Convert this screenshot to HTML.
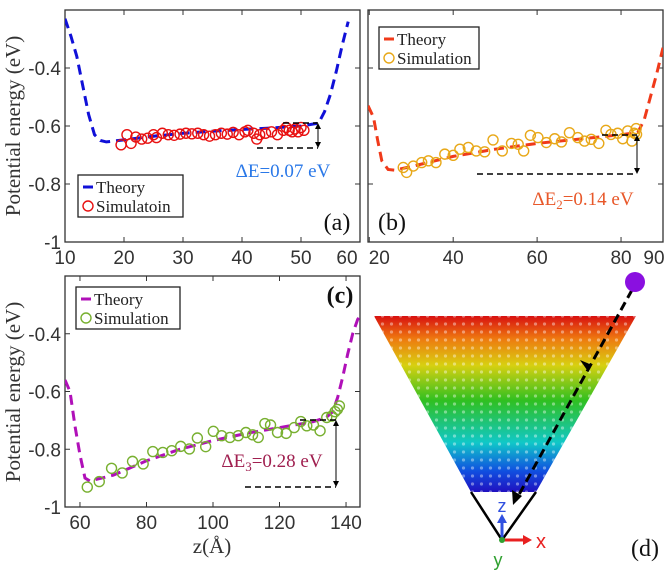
<!DOCTYPE html>
<html><head><meta charset="utf-8">
<style>
body{margin:0;background:#fff;}
svg{display:block;}
.tick{font-family:"Liberation Sans",sans-serif;font-size:19px;fill:#333;}
.serif{font-family:"Liberation Serif",serif;}
</style></head>
<body>
<svg id="fig" width="669" height="570" viewBox="0 0 669 570" xmlns="http://www.w3.org/2000/svg">
<defs>
<linearGradient id="rainbow" x1="0" y1="0" x2="0" y2="1">
<stop offset="0" stop-color="#d81010"/>
<stop offset="0.13" stop-color="#ee7a10"/>
<stop offset="0.28" stop-color="#d8d010"/>
<stop offset="0.48" stop-color="#30c020"/>
<stop offset="0.72" stop-color="#10c8c8"/>
<stop offset="0.88" stop-color="#1050e0"/>
<stop offset="1" stop-color="#2010c0"/>
</linearGradient>
<pattern id="dots" width="9" height="8" patternUnits="userSpaceOnUse">
<circle cx="4.5" cy="4" r="1.6" fill="#fff" opacity="0.4"/>
</pattern>
</defs>
<g id="plots"></g>
<g id="panel-d">
<polygon points="374,316 636,316 536,492 471,492" fill="url(#rainbow)"/>
<polygon points="374,316 636,316 536,492 471,492" fill="url(#dots)"/>
<polyline points="471,492 502,540 536,492" fill="none" stroke="#000" stroke-width="2.5"/>
<line x1="632" y1="290" x2="516" y2="500" stroke="#000" stroke-width="3" stroke-dasharray="9,5"/>
<polygon points="587,370 580,360 592,365" fill="#000"/>
<polygon points="513,505 512,490 522,496" fill="#000"/>
<circle cx="635" cy="282" r="10" fill="#8a10e0"/>
<line x1="502" y1="540" x2="502" y2="522" stroke="#3050e0" stroke-width="3"/>
<polygon points="497,523 507,523 502,514" fill="#3050e0"/>
<line x1="502" y1="540" x2="524" y2="540" stroke="#e82020" stroke-width="3"/>
<polygon points="523,535 523,545 532,540" fill="#e82020"/>
<circle cx="502" cy="540" r="3" fill="#30a030"/>
<text x="502" y="512" font-family="Liberation Sans,sans-serif" font-size="18" fill="#3050e0" text-anchor="middle">z</text>
<text x="541" y="548" font-family="Liberation Sans,sans-serif" font-size="20" fill="#e82020" text-anchor="middle">x</text>
<text x="498" y="566" font-family="Liberation Sans,sans-serif" font-size="18" fill="#30a030" text-anchor="middle">y</text>
<text x="645" y="556" class="serif" font-size="24" fill="#111" text-anchor="middle">(d)</text>
</g>
</svg>
<script>
const NS="http://www.w3.org/2000/svg";
// Panel (a)
const aTheoryZ=[10,11,12,13,14,15,16,17,20,25,30,35,40,45,50,53,54,55,56,57,58];
const aTheoryE=[-0.23,-0.29,-0.36,-0.46,-0.56,-0.63,-0.65,-0.655,-0.648,-0.635,-0.625,-0.618,-0.612,-0.607,-0.60,-0.59,-0.55,-0.49,-0.41,-0.32,-0.24];
const aSimZ=[19.5,20.5,21.2,22,23,24,25,25.5,26.5,27.5,28.5,29.5,30.5,31.5,32.5,33.5,34.5,35.5,36.5,37.5,38.5,39.5,40.5,41,42,42.5,43,44,45,46,47,47.5,48,48.5,49,49.5,50,50.5];
const aSimE=[-0.665,-0.63,-0.66,-0.638,-0.645,-0.642,-0.63,-0.64,-0.625,-0.63,-0.632,-0.628,-0.625,-0.627,-0.625,-0.63,-0.635,-0.63,-0.625,-0.628,-0.622,-0.63,-0.62,-0.615,-0.625,-0.645,-0.63,-0.625,-0.62,-0.63,-0.615,-0.605,-0.615,-0.62,-0.61,-0.62,-0.605,-0.615];
const aXTicks=[10,20,30,40,50,60];
// Panel (b)
const bTheoryZ=[19.7,21,22,23,24.5,26,30,40,50,60,70,80,84,85.5,87,88.5,90];
const bTheoryE=[-0.53,-0.57,-0.65,-0.72,-0.75,-0.752,-0.74,-0.705,-0.68,-0.66,-0.645,-0.63,-0.622,-0.58,-0.5,-0.42,-0.33];
const bSimZ=[28.1,28.9,30.5,32.5,34.1,35.9,38.0,40,41.6,43.6,45.5,47.5,49.5,51.7,53.9,55.5,56.8,58.4,60.2,62.2,64.2,65.8,67.7,69.7,71.3,72.9,74.7,76.4,77.6,79.2,80.4,81.6,82.6,83.2,83.6,83.7];
const bSimE=[-0.743,-0.760,-0.738,-0.726,-0.720,-0.726,-0.697,-0.701,-0.680,-0.674,-0.686,-0.689,-0.648,-0.686,-0.660,-0.663,-0.686,-0.632,-0.640,-0.657,-0.644,-0.655,-0.623,-0.640,-0.652,-0.646,-0.660,-0.615,-0.629,-0.625,-0.644,-0.617,-0.652,-0.625,-0.609,-0.629];
const bXTicks=[20,40,60,80,90];
// Panel (c)
const cTheoryZ=[55.5,57,58.5,60,61.5,63,70,80,90,100,110,120,130,134,136,137.5,139,140.5,142,143.5,144.2];
const cTheoryE=[-0.56,-0.6,-0.72,-0.82,-0.9,-0.91,-0.89,-0.84,-0.8,-0.77,-0.745,-0.725,-0.705,-0.69,-0.67,-0.62,-0.55,-0.47,-0.4,-0.35,-0.34];
const cSimZ=[62.2,65.8,69.5,72.7,75.8,79.0,81.9,84.9,87.6,90.3,92.9,95.3,97.8,100.1,102.6,105.1,107.6,109.9,111.9,113.6,115.6,117.3,119.4,122.0,124.4,126.4,128.2,130.2,132.2,134.2,135.7,136.7,137.4,138.0];
const cSimE=[-0.931,-0.912,-0.866,-0.882,-0.842,-0.851,-0.808,-0.811,-0.805,-0.790,-0.799,-0.761,-0.791,-0.738,-0.753,-0.759,-0.753,-0.742,-0.750,-0.759,-0.711,-0.716,-0.742,-0.745,-0.725,-0.704,-0.719,-0.716,-0.736,-0.690,-0.685,-0.670,-0.662,-0.650];
const cXTicks=[60,80,100,120,140];
const yTicks=[-1,-0.8,-0.6,-0.4];
const yTickLabels=["-1","-0.8","-0.6","-0.4"];

const root=document.getElementById('plots');
function mk(tag,attrs,parent){const e=document.createElementNS(NS,tag);for(const k in attrs)e.setAttribute(k,attrs[k]);(parent||root).appendChild(e);return e;}

function panel(o){
  const g=mk('g',{});
  
  
  const sx=z=>o.L+(z-o.x0)/(o.x1-o.x0)*(o.R-o.L);
  const sy=v=>o.B-(v-(-1))/(-0.2-(-1))*(o.B-o.T);
  const frame=mk('rect',{x:o.L,y:o.T,width:o.R-o.L,height:o.B-o.T,fill:'#fff',stroke:'#333','stroke-width':1.3},g);
  
  
  yTicks.forEach((v,i)=>{
    const y=sy(v);
    mk('line',{x1:o.L,x2:o.L+5,y1:y,y2:y,stroke:'#333'},g);
    mk('line',{x1:o.R,x2:o.R-5,y1:y,y2:y,stroke:'#333'},g);
    if(o.yLabels){const t=mk('text',{x:o.L-4,y:y+7,'text-anchor':'end',class:'tick'},g);t.textContent=yTickLabels[i];
      
      }
  });
  o.xt.forEach((v,i)=>{
    const x=sx(v);
    mk('line',{x1:x,x2:x,y1:o.B,y2:o.B-5,stroke:'#333'},g);
    mk('line',{x1:x,x2:x,y1:o.T,y2:o.T+5,stroke:'#333'},g);
    let off=0;
    if(o.shiftFirst&&i===0)off=o.shiftFirst;
    if(o.shiftLast&&i===o.xt.length-1)off=o.shiftLast;
    const t=mk('text',{x:x+off,y:o.B+22,'text-anchor':'middle',class:'tick'},g);t.textContent=String(v);
    
    
  });
  const clip='clip-'+o.name;
  const cp=mk('clipPath',{id:clip},g);mk('rect',{x:o.L,y:o.T,width:o.R-o.L,height:o.B-o.T},cp);
  const pts=o.tz.map((z,i)=>sx(z).toFixed(1)+','+sy(o.te[i]).toFixed(1)).join(' ');
  const line=mk('polyline',{points:pts,fill:'none',stroke:o.lc,'stroke-width':3,'stroke-dasharray':'10,6','clip-path':'url(#'+clip+')'},g);
  
  
  o.sz.forEach((z,i)=>{
    const c=mk('circle',{cx:sx(z),cy:sy(o.se[i]),r:5,fill:'none',stroke:o.mc,'stroke-width':1.4},g);
    
    
  });
  const a=o.ann;
  mk('line',{x1:a.lx1,x2:a.ax,y1:a.ly,y2:a.ly,stroke:'#000','stroke-width':1.5,'stroke-dasharray':'6,4'},g);
  mk('line',{x1:a.ux1,x2:a.ax,y1:a.uy,y2:a.uy,stroke:'#000','stroke-width':1.5,'stroke-dasharray':'6,4'},g);
  mk('line',{x1:a.ax,x2:a.ax,y1:a.uy+3,y2:a.ly-3,stroke:'#000','stroke-width':1},g);
  mk('polygon',{points:`${a.ax-3},${a.uy+6} ${a.ax+3},${a.uy+6} ${a.ax},${a.uy}`,fill:'#000'},g);
  mk('polygon',{points:`${a.ax-3},${a.ly-6} ${a.ax+3},${a.ly-6} ${a.ax},${a.ly}`,fill:'#000'},g);
  const at=mk('text',{x:a.tx,y:a.ty,'text-anchor':'middle',class:'serif','font-size':19,fill:a.tc},g);
  at.innerHTML=a.html;
  
  
  const lg=o.lg;
  const lgG=mk('g',{},g);
  
  
  mk('rect',{x:lg.x,y:lg.y,width:lg.w,height:42,fill:'#fff',stroke:'#222','stroke-width':1.3},lgG);
  mk('line',{x1:lg.x+5,x2:lg.x+15,y1:lg.y+12,y2:lg.y+12,stroke:o.lc,'stroke-width':3},lgG);
  mk('circle',{cx:lg.x+10,cy:lg.y+31,r:5,fill:'none',stroke:o.mc,'stroke-width':1.4},lgG);
  const t1=mk('text',{x:lg.x+18,y:lg.y+18,class:'serif','font-size':17,fill:'#222'},lgG);t1.textContent='Theory';
  
  
  const t2=mk('text',{x:lg.x+18,y:lg.y+37,class:'serif','font-size':17,fill:'#222'},lgG);t2.textContent=o.simLabel;
  
  
  const pl=mk('text',{x:o.pl[0],y:o.pl[1],'text-anchor':'middle',class:'serif','font-size':24,fill:'#111','font-weight':o.plBold?'bold':'normal'},g);
  pl.textContent=o.plText;
  
  
}

panel({name:'panel-a',L:65,R:360,T:10,B:242,x0:10,x1:60,xt:aXTicks,yLabels:true,shiftLast:-13,tz:aTheoryZ,te:aTheoryE,sz:aSimZ,se:aSimE,lc:'#1010d8',mc:'#e81010',
  ann:{lx1:257,ux1:283,ax:318,ly:148,uy:123,tx:283,ty:177,tc:'#2a78e8',html:'ΔE=0.07 eV'},
  lg:{x:78,y:175,w:105},simLabel:'Simulatoin',pl:[337,230],plText:'(a)'});
panel({name:'panel-b',L:368,R:663,T:10,B:242,x0:19.7,x1:90,xt:bXTicks,yLabels:false,shiftFirst:10,shiftLast:-9,tz:bTheoryZ,te:bTheoryE,sz:bSimZ,se:bSimE,lc:'#f03a1a',mc:'#e8a818',
  ann:{lx1:477,ux1:602,ax:637,ly:174,uy:135,tx:583,ty:205,tc:'#e8582a',html:'ΔE<tspan font-size="13" dy="4">2</tspan><tspan dy="-4">=0.14 eV</tspan>'},
  lg:{x:379,y:27,w:100},simLabel:'Simulation',pl:[392,230],plText:'(b)'});
panel({name:'panel-c',L:65,R:360,T:276,B:507,x0:55.5,x1:144.2,xt:cXTicks,yLabels:true,tz:cTheoryZ,te:cTheoryE,sz:cSimZ,se:cSimE,lc:'#b010b8',mc:'#78b030',
  ann:{lx1:245,ux1:300,ax:336,ly:487,uy:420,tx:272,ty:467,tc:'#a02050',html:'ΔE<tspan font-size="13" dy="4">3</tspan><tspan dy="-4">=0.28 eV</tspan>'},
  lg:{x:76,y:287,w:104},simLabel:'Simulation',pl:[340,303],plText:'(c)',plBold:true});

function label(txt,x,y,rot,name){
  const t=mk('text',{x:x,y:y,'text-anchor':'middle',class:'serif','font-size':21,fill:'#333',transform:rot?`rotate(-90 ${x} ${y})`:''});
  t.textContent=txt;
  
  
}
label('Potential energy (eV)',20,126,true,'y-axis-title-a');
label('Potential energy (eV)',20,392,true,'y-axis-title-c');
label('z(Å)',212,553,false,'x-axis-title-c');
</script>
</body></html>
